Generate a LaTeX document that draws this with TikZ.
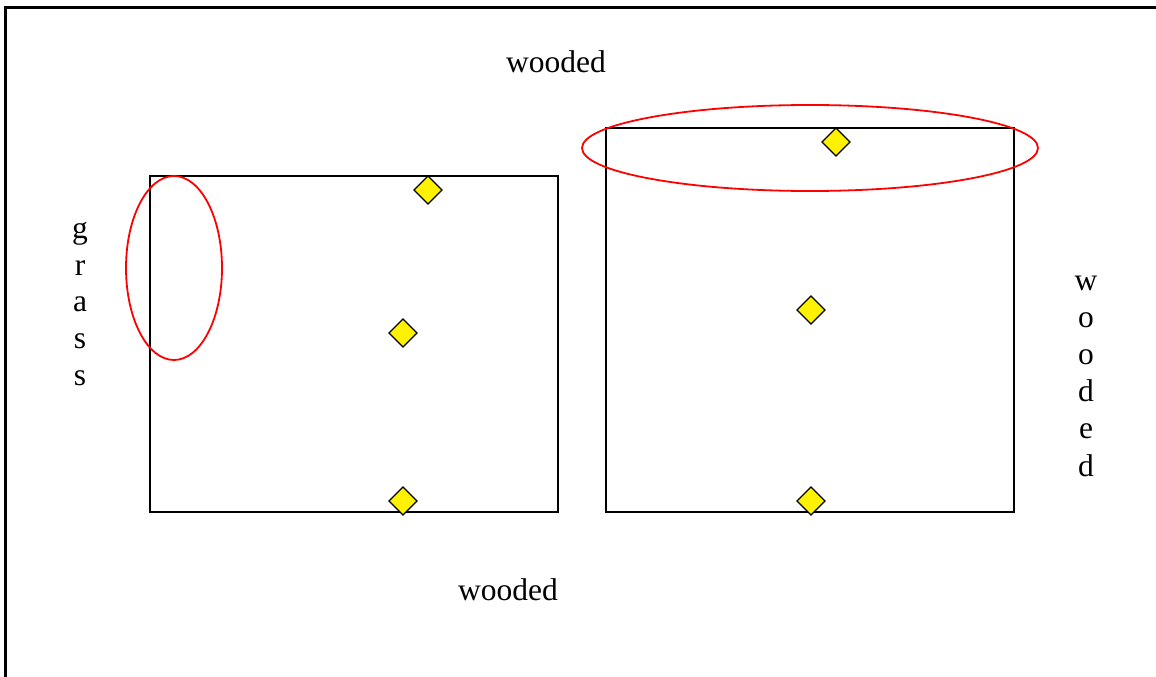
\documentclass[tikz,border=0pt]{standalone}
\usepackage{fontspec}
\setmainfont{Liberation Serif}
\begin{document}
\begin{tikzpicture}[x=1pt,y=-1pt,
  plot/.style={draw=black,line width=1.8pt},
  marker/.style={draw=black,fill=yellow,line width=1.3pt},
  ring/.style={draw=red,line width=1.8pt},
  lbl/.style={font=\fontsize{31.5}{36}\selectfont,inner sep=0pt,anchor=base}]
\useasboundingbox (0,0) rectangle (1156,677);
\clip (0,0) rectangle (1156,677);
\draw[line width=2.4pt] (5.5,7.5) rectangle (1200,720);
% plots
\draw[plot] (150,176) rectangle (558,512);
\draw[plot] (606,128) rectangle (1014,512);
% markers
\foreach \n/\x/\y in {d1/428/190, d2/403/333, d3/403/501, d4/836/142, d5/811/310, d6/811/501}{
  \draw[marker] (\x,\y-14) -- (\x+14,\y) -- (\x,\y+14) -- (\x-14,\y) -- cycle;
}
% ellipses
\draw[ring] (174,268) ellipse [x radius=48, y radius=92];
\draw[ring] (810,148) ellipse [x radius=228, y radius=43];
% labels
\node[lbl] (wtop) at (556,73) {wooded};
\node[lbl] (wbot) at (508,600) {wooded};
\node[lbl] (g1) at (80,238.5) {g};
\node[lbl] (g2) at (80,275) {r};
\node[lbl] (g3) at (80,311.5) {a};
\node[lbl] (g4) at (80,348) {s};
\node[lbl] (g5) at (80,385) {s};
\node[lbl] (r1) at (1086,290) {w};
\node[lbl] (r2) at (1086,327.2) {o};
\node[lbl] (r3) at (1086,364.4) {o};
\node[lbl] (r4) at (1086,401.6) {d};
\node[lbl] (r5) at (1086,438.8) {e};
\node[lbl] (r6) at (1086,476) {d};
\end{tikzpicture}
\end{document}
